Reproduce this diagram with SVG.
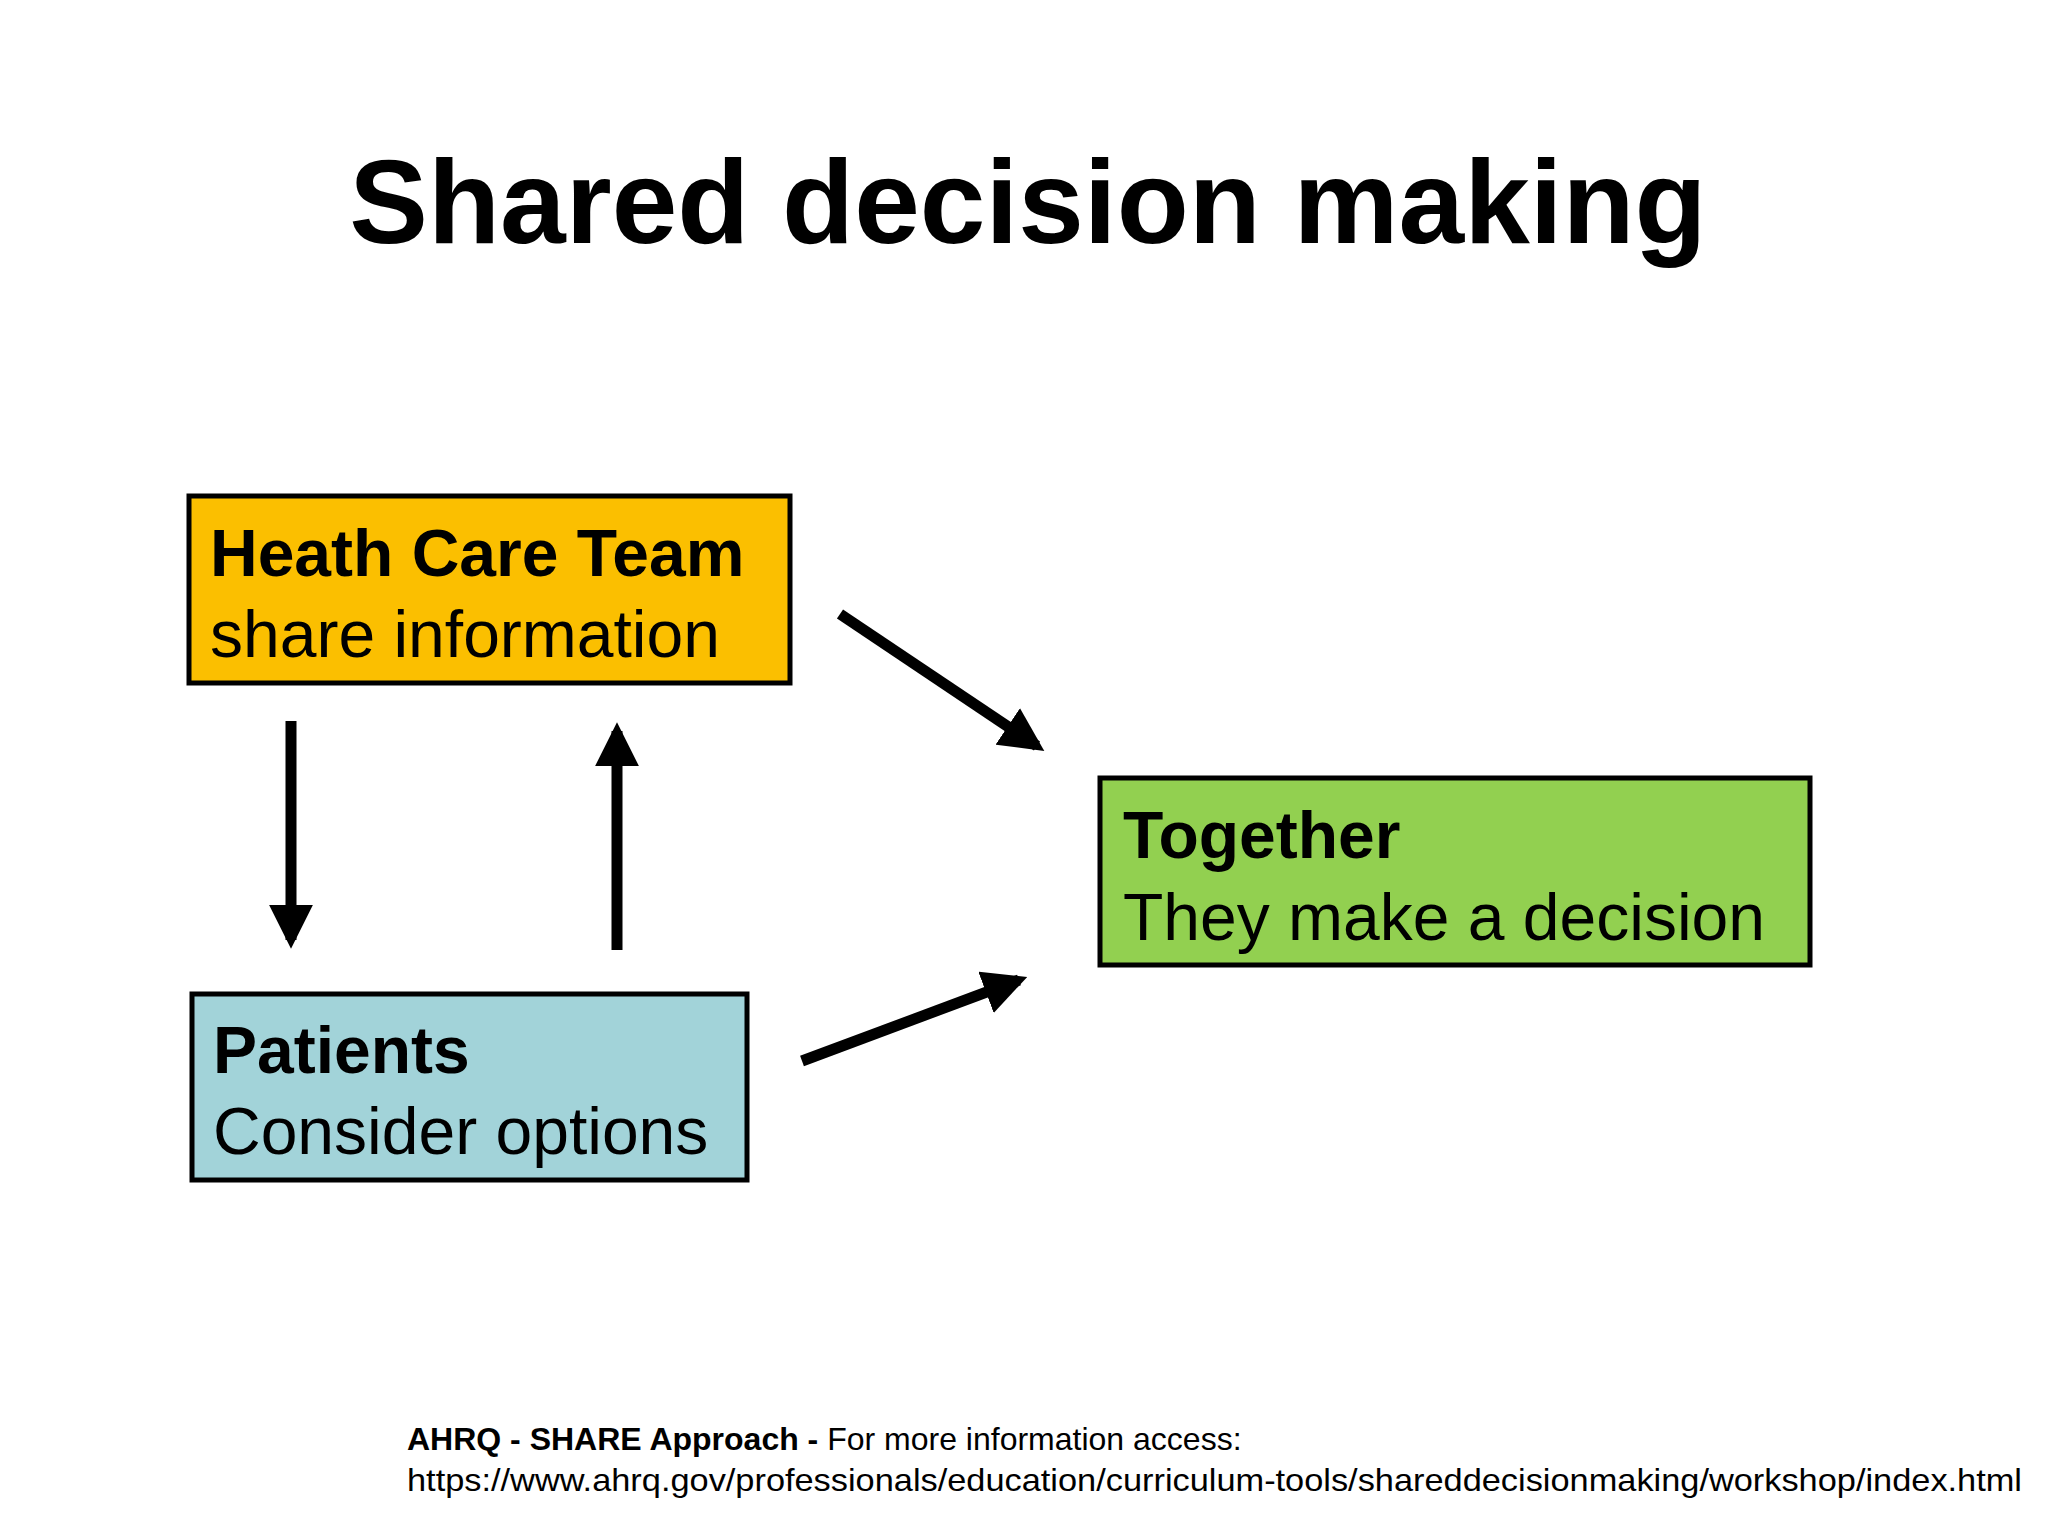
<svg xmlns="http://www.w3.org/2000/svg" width="2048" height="1536" viewBox="0 0 2048 1536">
<defs>
<style>
.box{stroke:#000;stroke-width:5}
.t{font-family:"Liberation Sans",Arial,sans-serif;fill:#000}
.b{font-weight:bold}
.c{stroke:#000;stroke-width:11;fill:none}
</style>
<marker id="ah" viewBox="0 0 10 10" refX="8" refY="5" markerWidth="4" markerHeight="4" orient="auto" markerUnits="strokeWidth">
<path d="M0,0 L10,5 L0,10 z" fill="#000"/>
</marker>
</defs>
<rect width="2048" height="1536" fill="#fff"/>
<text class="t b" x="1028" y="243" font-size="118" text-anchor="middle">Shared decision making</text>
<g id="hct">
<rect class="box" x="189" y="496" width="601" height="187" fill="#FBBF00"/>
<text class="t b" x="210" y="576" font-size="66">Heath Care Team</text>
<text class="t" x="210" y="657" font-size="66">share information</text>
</g>
<g id="patients">
<rect class="box" x="192" y="994" width="555" height="186" fill="#A2D3D9"/>
<text class="t b" x="213" y="1073" font-size="66">Patients</text>
<text class="t" x="213" y="1154" font-size="66">Consider options</text>
</g>
<g id="together">
<rect class="box" x="1100" y="778" width="710" height="187" fill="#92D050"/>
<text class="t b" x="1123" y="858" font-size="66">Together</text>
<text class="t" x="1123" y="940" font-size="66">They make a decision</text>
</g>
<g id="connectors">
<line class="c" x1="291" y1="721" x2="291" y2="940" marker-end="url(#ah)"/>
<line class="c" x1="617" y1="950" x2="617" y2="731" marker-end="url(#ah)"/>
<line class="c" x1="840" y1="614" x2="1037" y2="746" marker-end="url(#ah)"/>
<line class="c" x1="802" y1="1061" x2="1019" y2="980" marker-end="url(#ah)"/>
</g>
<text class="t" x="407" y="1450" font-size="32"><tspan class="b">AHRQ - SHARE Approach - </tspan>For more information access:</text>
<text class="t" x="407" y="1491" font-size="32" textLength="1615" lengthAdjust="spacingAndGlyphs">https://www.ahrq.gov/professionals/education/curriculum-tools/shareddecisionmaking/workshop/index.html</text>
</svg>
